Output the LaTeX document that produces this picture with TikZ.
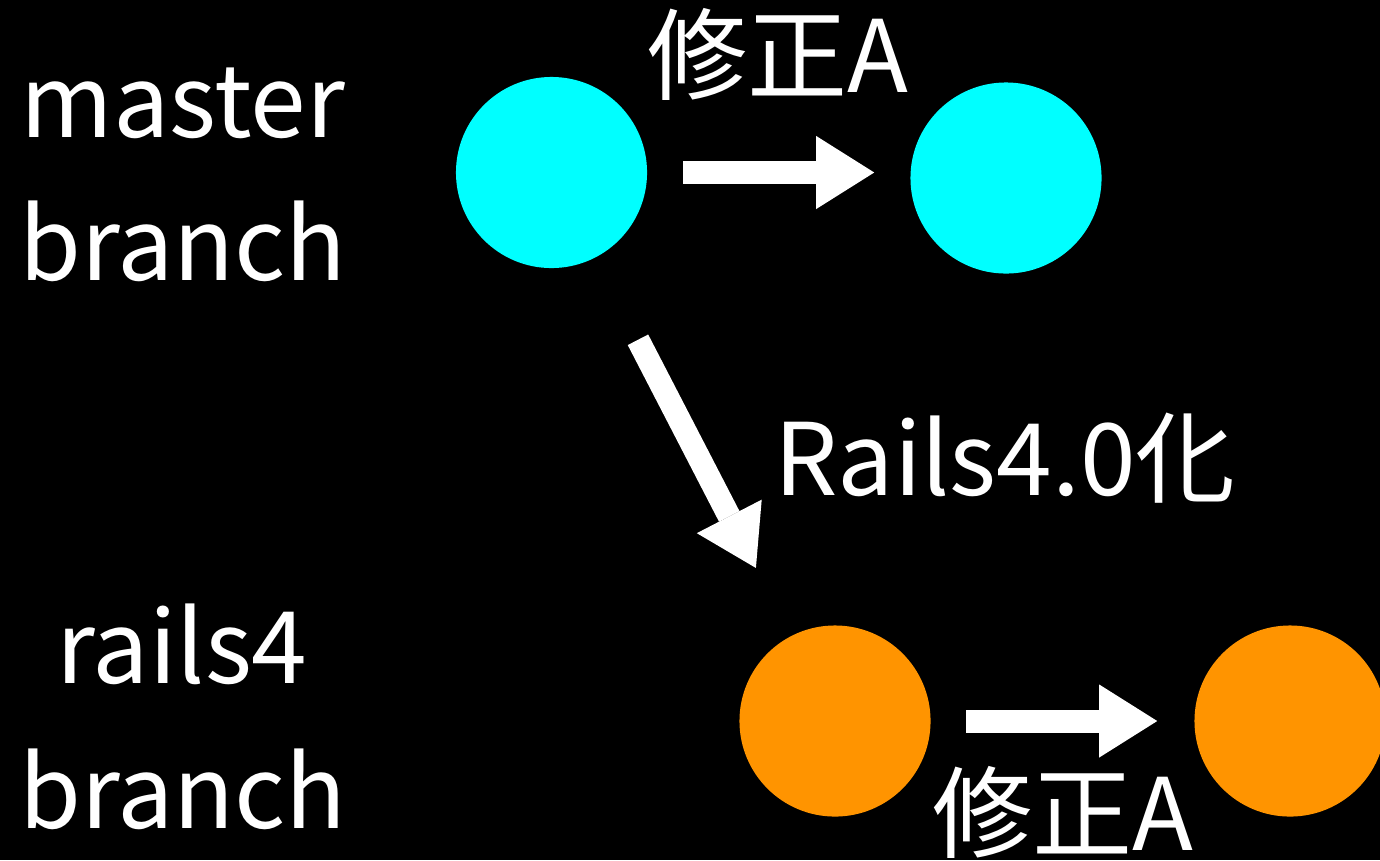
\documentclass[tikz,border=0pt]{standalone}
\usepackage{fontspec}
\setmainfont{Noto Sans CJK JP}
\usetikzlibrary{arrows.meta}
\definecolor{commitcyan}{RGB}{0,255,255}
\definecolor{commitorange}{RGB}{255,148,0}
\begin{document}
\begin{tikzpicture}[x=0.01cm,y=-0.01cm,
  commit/.style={circle,minimum size=1.91cm,inner sep=0pt,draw=none},
  mastercommit/.style={commit,fill=commitcyan},
  railscommit/.style={commit,fill=commitorange},
  label/.style={text=white,inner sep=0pt,anchor=base,font=\fontsize{28.45pt}{34pt}\selectfont},
  bigarrow/.style={draw=white,fill=white,line width=0.23cm,
    -{Triangle[length=0.58cm,width=0.73cm,line width=0pt]}}]
  \fill[black] (0,0) rectangle (1380,860);
  \clip (0,0) rectangle (1380,860);
  \node[mastercommit] (m1) at (551.5,172.5) {};
  \node[mastercommit] (m2) at (1006,178) {};
  \node[railscommit] (r1) at (835,721) {};
  \node[railscommit] (r2) at (1290,721) {};
  \node[label] (tmaster) at (183,137) {master};
  \node[label] (tbranch1) at (183,280) {branch};
  \node[label] (trails) at (182,683) {rails4};
  \node[label] (tbranch2) at (183,828) {branch};
  \node[label] (fixa1) at (778,92) {修正A};
  \node[label] (rails40) at (1005,495) {Rails4.0化};
  \node[label] (fixa2) at (1063,850) {修正A};
  \draw[bigarrow,shorten <=0.355cm,shorten >=0.355cm] (m1.east) -- (m1.east -| m2.west);
  \draw[bigarrow,shorten <=0.35cm,shorten >=0.365cm] (r1.east) -- (r1.east -| r2.west);
  \draw[bigarrow,shorten <=0.92cm,shorten >=0.76cm] (m1) -- (r1);
\end{tikzpicture}
\end{document}
